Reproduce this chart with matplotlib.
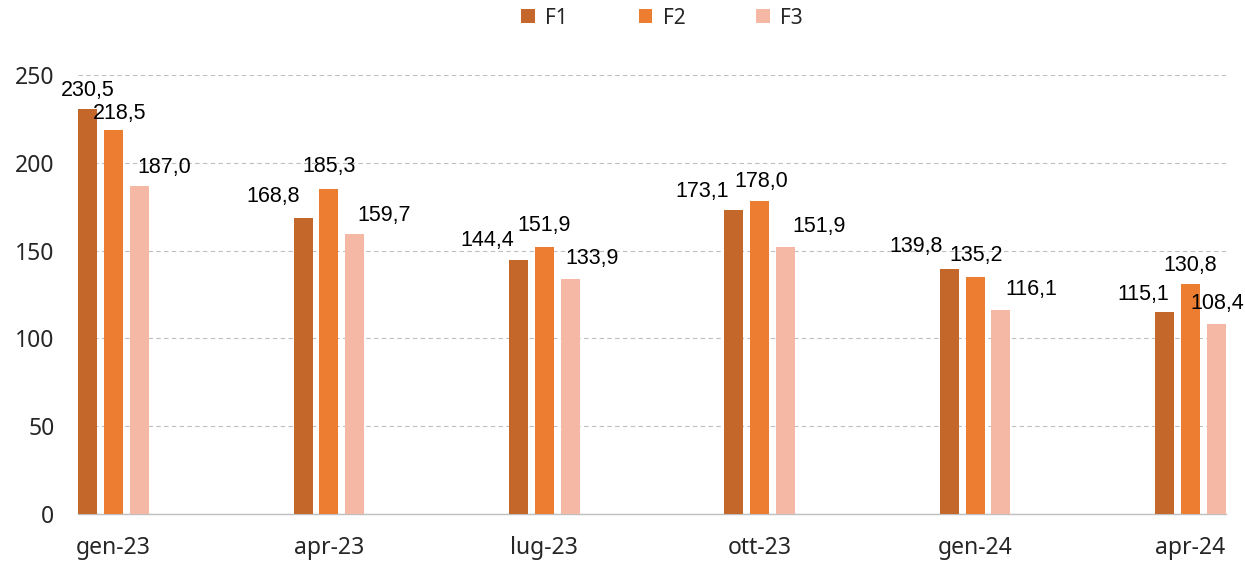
import matplotlib.pyplot as plt
import numpy as np

# data
periods = ['gen-23', 'apr-23', 'lug-23', 'ott-23', 'gen-24', 'apr-24']
series_names = ['F1', 'F2', 'F3']
f1 = [230.5, 168.8, 144.4, 173.1, 139.8, 115.1]
f2 = [218.5, 185.3, 151.9, 178.0, 135.2, 130.8]
f3 = [187.0, 159.7, 133.9, 151.9, 116.1, 108.4]

colors = ['#C4672B', '#ED7D31', '#F4B8A5']

# label offsets in pixels (dx, dy above bar top), as placed in the original
label_dx = [
    [0, -30, -31, -32, -33, -21],
    [6, 0, 0, 2, 1, 0],
    [25, 29, 22, 34, 30, 1],
]
label_dy = [
    [19, 21, 20, 19, 22, 17],
    [17, 22, 22, 20, 21, 19],
    [18, 18, 20, 21, 21, 20],
]

fig = plt.figure(figsize=(12.45, 5.64), dpi=100)
ax = fig.add_axes([78 / 1245, 1 - 514 / 564, (1226 - 78) / 1245, (514 - 75) / 564])

x = np.arange(len(periods))
width = 0.088
step = 0.12
values = [f1, f2, f3]

for i, (name, vals) in enumerate(zip(series_names, values)):
    pos = x + (i - 1) * step
    ax.bar(pos, vals, width=width, color=colors[i], label=name, zorder=3)
    for j, v in enumerate(vals):
        ax.annotate(f'{v:.1f}'.replace('.', ','), (pos[j], v),
                    xytext=(label_dx[i][j] * 0.72, label_dy[i][j] * 0.72),
                    textcoords='offset points', ha='center', va='center',
                    fontsize=15.5, family='Liberation Sans', color='#000000')

ax.set_xlim(-0.165, len(periods) - 1 + 0.165)
ax.set_ylim(0, 250)
ax.set_yticks(np.arange(0, 251, 50))
ax.set_xticks(x)
ax.set_xticklabels(periods)

ax.grid(axis='y', linestyle=(0, (4, 3)), color='#BFBFBF', linewidth=0.8, zorder=0)
for side in ['top', 'right', 'left']:
    ax.spines[side].set_visible(False)
ax.spines['bottom'].set_color('#BFBFBF')
ax.spines['bottom'].set_linewidth(1.0)

ax.tick_params(axis='both', length=0, labelsize=16.5, labelcolor='#262626')
ax.tick_params(axis='y', pad=17)
ax.tick_params(axis='x', pad=16)
for lab in ax.get_xticklabels() + ax.get_yticklabels():
    lab.set_family('Noto Sans')

leg = fig.legend(loc='center', bbox_to_anchor=(662 / 1245, 1 - 18 / 564), ncol=3,
                 frameon=False, handlelength=0.65, handleheight=0.65,
                 columnspacing=3.4, handletextpad=0.5,
                 prop={'family': 'Noto Sans', 'size': 15})
for t in leg.get_texts():
    t.set_color('#262626')

fig.savefig('out.png', dpi=100)
